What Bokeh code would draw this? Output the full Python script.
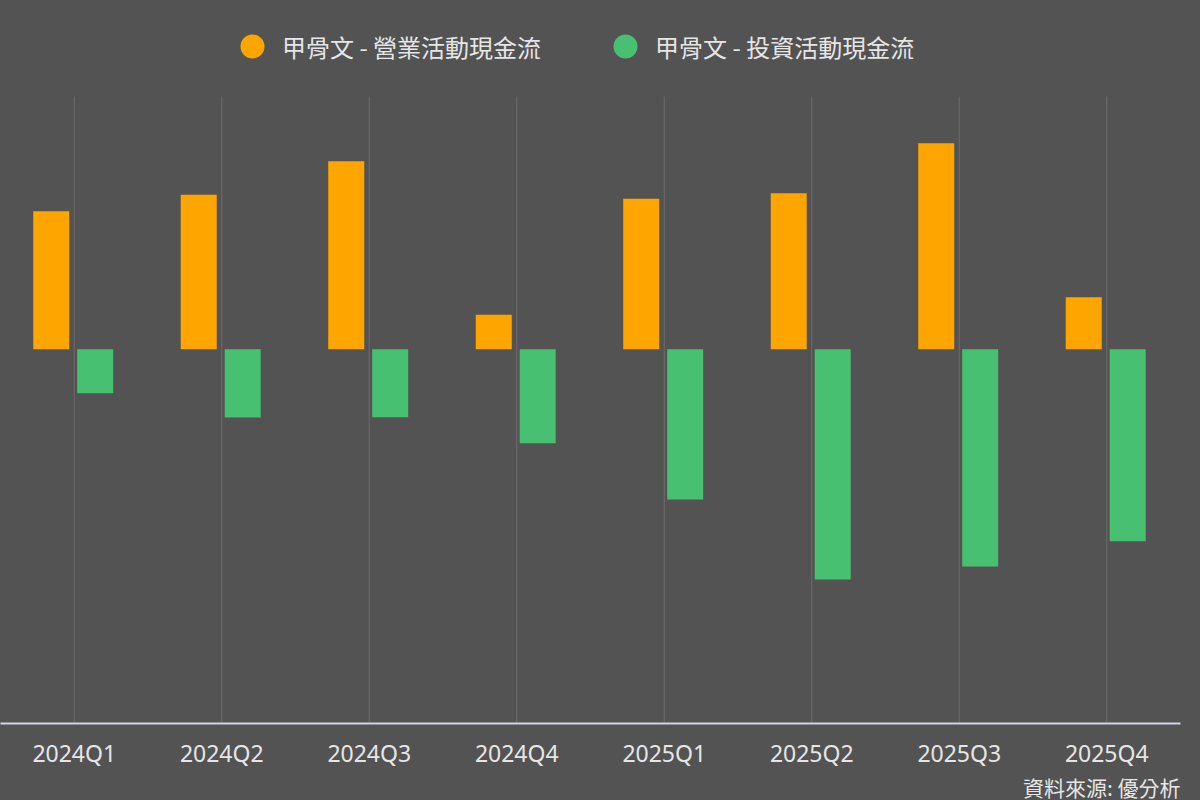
from bokeh.plotting import figure
from bokeh.models import FactorRange, Range1d, Legend, LegendItem, Title, ColumnDataSource
from bokeh.transform import dodge
from bokeh.embed import file_html
from bokeh.resources import INLINE

# ---- data ----
quarters = ["2024Q1", "2024Q2", "2024Q3", "2024Q4", "2025Q1", "2025Q2", "2025Q3", "2025Q4"]
operating_cf = [5.52, 6.18, 7.52, 1.38, 6.02, 6.24, 8.24, 2.08]
investing_cf = [-1.76, -2.73, -2.72, -3.76, -6.01, -9.21, -8.69, -7.68]
series_names = ["甲骨文 - 營業活動現金流", "甲骨文 - 投資活動現金流"]
source_note = "資料來源: 優分析"

# value axis extent (plot area) and extra head-room used by the legend
y_min, y_plot_top, y_canvas_top = -14.97, 10.11, 13.95

BG = "#535353"
ORANGE = "#FFA500"
GREEN = "#48C072"
TEXT = "#e6e6e6"
GRID = "#6c6c6c"
CJK = "Noto Sans CJK TC"

src = ColumnDataSource(dict(q=quarters, op=operating_cf, inv=investing_cf,
                            g0=[y_min] * len(quarters), g1=[y_plot_top] * len(quarters)))
nan = float("nan")

p = figure(
    x_range=FactorRange(*quarters, range_padding=0),
    y_range=Range1d(y_min, y_canvas_top),
    width=1200, height=800,
    min_border_left=0, min_border_right=20, min_border_top=0, min_border_bottom=77,
    output_backend="svg", toolbar_location=None,
    y_axis_location=None,
    background_fill_color=BG, border_fill_color=BG, outline_line_color=None,
)
p.styles = {"position": "fixed", "left": "0px", "top": "0px", "background-color": BG}

# vertical grid lines at category centres, limited to the plot area
p.segment(x0="q", y0="g0", x1="q", y1="g1", source=src, line_color=GRID, line_width=1)

r_op = p.vbar(x=dodge("q", -0.156, range=p.x_range), top="op", bottom=0, width=0.244,
              source=src, fill_color=ORANGE, line_color=None)
r_inv = p.vbar(x=dodge("q", 0.142, range=p.x_range), top="inv", bottom=0, width=0.244,
               source=src, fill_color=GREEN, line_color=None)

# legend markers (circles), not drawn in the plot area (y is NaN)
d1 = p.scatter(x=[quarters[0]], y=[nan], marker="circle", size=24, fill_color=ORANGE, line_color=None)
d2 = p.scatter(x=[quarters[0]], y=[nan], marker="circle", size=24, fill_color=GREEN, line_color=None)

legend = Legend(
    items=[LegendItem(label=series_names[0], renderers=[d1]),
           LegendItem(label=series_names[1], renderers=[d2])],
    orientation="horizontal", location=(222, 647),
    glyph_width=60, glyph_height=60, label_standoff=-8, spacing=54,
    padding=0, margin=0,
    label_text_font=CJK, label_text_font_size="24px", label_text_color=TEXT,
    background_fill_alpha=0, border_line_color=None,
)
p.add_layout(legend, "center")

p.xgrid.visible = False
p.ygrid.visible = False

ax = p.xaxis[0]
ax.axis_line_color = "#ccd6eb"
ax.axis_line_width = 2
ax.major_tick_line_color = None
ax.minor_tick_line_color = None
ax.major_tick_out = 0
ax.major_tick_in = 0
ax.minor_tick_out = 0
ax.major_label_standoff = 13
ax.major_label_text_font = "Noto Sans"
ax.major_label_text_font_size = "23px"
ax.major_label_text_color = TEXT

credit = Title(text=source_note, align="right", text_font=CJK, text_font_size="21px",
               text_font_style="normal", text_color=TEXT, standoff=-4, offset=0)
p.add_layout(credit, "below")

open("out.html", "w").write(file_html(p, INLINE))
